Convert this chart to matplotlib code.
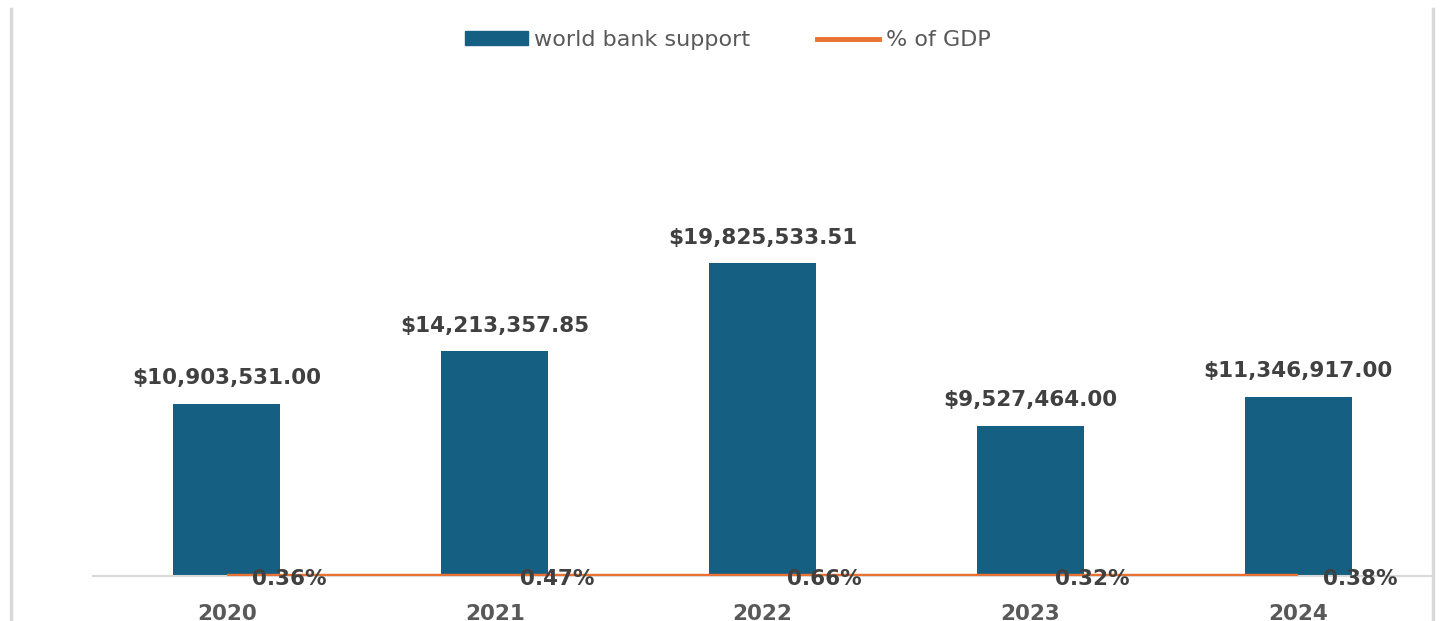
import matplotlib

matplotlib.use("Agg")
import matplotlib.pyplot as plt
from matplotlib.lines import Line2D
from matplotlib.patches import Patch
import numpy as np

# data
years = ["2020", "2021", "2022", "2023", "2024"]
support = [10903531.00, 14213357.85, 19825533.51, 9527464.00, 11346917.00]
pct_gdp = [0.0036, 0.0047, 0.0066, 0.0032, 0.0038]

C_BAR = "#156082"
C_LINE = "#E97132"
C_LABEL = "#404040"
C_AXIS = "#595959"
C_GRID = "#d9d9d9"

plt.rcParams["font.family"] = "DejaVu Sans"

fig = plt.figure(figsize=(14.4, 6.21), dpi=100)
ax = fig.add_axes([93 / 1440, 45 / 621, (1432 - 93) / 1440, 496 / 621])

x = np.arange(len(years))
bars = ax.bar(x, support, width=0.4, color=C_BAR, zorder=2)
line, = ax.plot(x, pct_gdp, color=C_LINE, linewidth=3.2, zorder=3,
                solid_capstyle="butt")

for xi, v in zip(x, support):
    ax.annotate(f"${v:,.2f}", xy=(xi, v), xytext=(0, 11), textcoords="offset points",
                ha="center", va="bottom", fontsize=15.5, fontweight="bold",
                color=C_LABEL, zorder=5)

for xi, p in zip(x, pct_gdp):
    ax.annotate(f"{p * 100:.2f}%", xy=(xi, p), xytext=(18, -2.5), textcoords="offset points",
                ha="left", va="center", fontsize=15.5, fontweight="bold",
                color=C_LABEL, zorder=5)

ax.set_xlim(-0.5, len(years) - 0.5)
ax.set_ylim(0, 31.4e6)
ax.set_xticks(x)
ax.set_xticklabels(years, fontsize=15.5, fontweight="bold", color=C_AXIS)
ax.tick_params(axis="x", length=0, pad=20)
ax.set_yticks([])
for s in ["top", "right", "left"]:
    ax.spines[s].set_visible(False)
ax.spines["bottom"].set_color(C_GRID)
ax.spines["bottom"].set_linewidth(1.5)

# chart frame edges
fig.add_artist(Line2D([11 / 1440, 11 / 1440], [0, 1 - 9 / 621], transform=fig.transFigure,
                      color=C_GRID, linewidth=2.5))
fig.add_artist(Line2D([1433 / 1440, 1433 / 1440], [0, 1 - 9 / 621], transform=fig.transFigure,
                      color=C_GRID, linewidth=2.5))

handles = [Patch(color=C_BAR, label="world bank support"),
           Line2D([], [], color=C_LINE, linewidth=3.5, label="% of GDP")]
fig.legend(handles=handles, loc="center", bbox_to_anchor=(728 / 1440, 1 - 40 / 621),
           ncol=2, frameon=False, fontsize=16, labelcolor=C_AXIS,
           handlelength=2.8, handleheight=0.55, handletextpad=0.3, columnspacing=3.0)

fig.savefig("out.png", dpi=100)
